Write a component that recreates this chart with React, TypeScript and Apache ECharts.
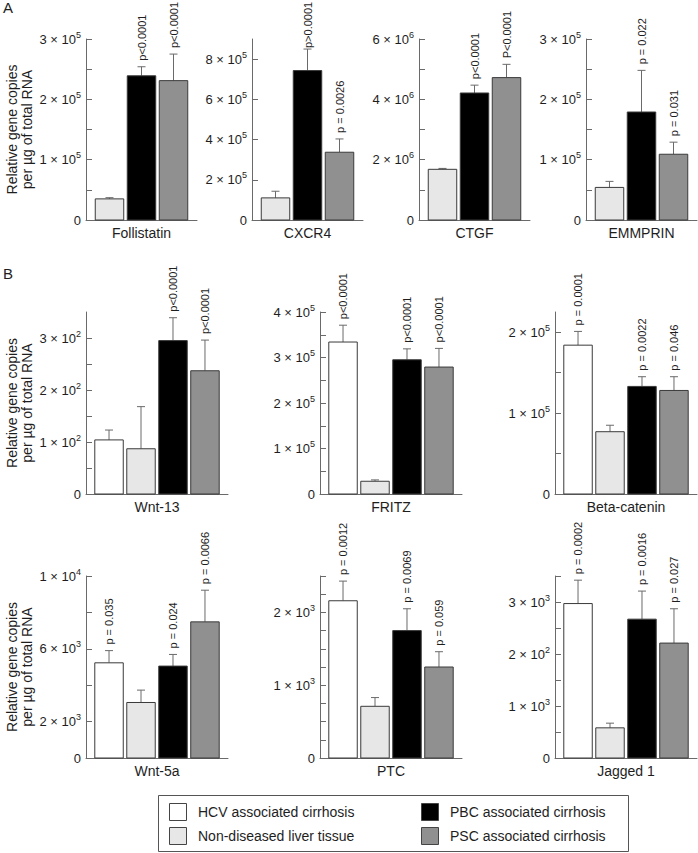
import React, { useEffect, useRef } from "react";
import * as echarts from "echarts";

const FONT = "'Liberation Sans', Arial, Helvetica, sans-serif";
const TEXT = "#1e1e1e";
const AXIS = "#6a6a6a";

const groups = [
  "HCV associated cirrhosis",
  "Non-diseased liver tissue",
  "PBC associated cirrhosis",
  "PSC associated cirrhosis",
];
const groupColors = ["#ffffff", "#e6e7e6", "#000000", "#8f908f"];

// Panel A genes (3 groups: non-diseased, PBC, PSC)
const panelAGroups = [1, 2, 3];
const panelBGroups = [0, 1, 2, 3];

const follistatinMean = [35000, 239000, 231000];
const follistatinSem = [2000, 15000, 44000];
const follistatinP = ["", "p<0.0001", "p<0.0001"];
const follistatinTicks = [0, 50000, 100000, 150000, 200000, 250000, 300000];
const follistatinLabelVals = [0, 100000, 200000, 300000];
const follistatinLabels = ["0", "1 × 10^5", "2 × 10^5", "3 × 10^5"];

const cxcr4Mean = [110000, 743000, 337000];
const cxcr4Sem = [33000, 107000, 66000];
const cxcr4P = ["", "p>0.0001", "p = 0.0026"];
const cxcr4Ticks = [0, 200000, 400000, 600000, 800000];
const cxcr4LabelVals = [0, 200000, 400000, 600000, 800000];
const cxcr4Labels = ["0", "2 × 10^5", "4 × 10^5", "6 × 10^5", "8 × 10^5"];

const ctgfMean = [1680000, 4210000, 4720000];
const ctgfSem = [30000, 260000, 440000];
const ctgfP = ["", "p<0.0001", "P<0.0001"];
const ctgfTicks = [0, 1000000, 2000000, 3000000, 4000000, 5000000, 6000000];
const ctgfLabelVals = [0, 2000000, 4000000, 6000000];
const ctgfLabels = ["0", "2 × 10^6", "4 × 10^6", "6 × 10^6"];

const emmprinMean = [54000, 179000, 109000];
const emmprinSem = [10000, 69000, 20000];
const emmprinP = ["", "p = 0.022", "p = 0.031"];
const emmprinTicks = [0, 50000, 100000, 150000, 200000, 250000, 300000];
const emmprinLabelVals = [0, 100000, 200000, 300000];
const emmprinLabels = ["0", "1 × 10^5", "2 × 10^5", "3 × 10^5"];

// Panel B genes (4 groups)
const wnt13Mean = [104, 87, 295, 237];
const wnt13Sem = [19, 81, 44, 59];
const wnt13P = ["", "", "p<0.0001", "p<0.0001"];
const wnt13Ticks = [0, 50, 100, 150, 200, 250, 300];
const wnt13LabelVals = [0, 100, 200, 300];
const wnt13Labels = ["0", "1 × 10^2", "2 × 10^2", "3 × 10^2"];

const fritzMean = [334000, 28000, 295000, 279000];
const fritzSem = [37000, 3000, 24000, 41000];
const fritzP = ["p<0.0001", "", "p<0.0001", "p<0.0001"];
const fritzTicks = [0, 50000, 100000, 150000, 200000, 250000, 300000, 350000, 400000];
const fritzLabelVals = [0, 100000, 200000, 300000, 400000];
const fritzLabels = ["0", "1 × 10^5", "2 × 10^5", "3 × 10^5", "4 × 10^5"];

const betaMean = [184000, 77000, 133000, 128000];
const betaSem = [17000, 8000, 12000, 17000];
const betaP = ["p = 0.0001", "", "p = 0.0022", "p = 0.046"];
const betaTicks = [0, 50000, 100000, 150000, 200000];
const betaLabelVals = [0, 100000, 200000];
const betaLabels = ["0", "1 × 10^5", "2 × 10^5"];

const wnt5aMean = [5230, 3050, 5050, 7480];
const wnt5aSem = [670, 680, 640, 1740];
const wnt5aP = ["p = 0.035", "", "p = 0.024", "p = 0.0066"];
const wnt5aTicks = [0, 2000, 4000, 6000, 8000, 10000];
const wnt5aLabelVals = [0, 2000, 6000, 10000];
const wnt5aLabels = ["0", "2 × 10^3", "6 × 10^3", "1 × 10^4"];

const ptcMean = [2160, 710, 1750, 1250];
const ptcSem = [270, 120, 300, 210];
const ptcP = ["p = 0.0012", "", "p = 0.0069", "p = 0.059"];
const ptcTicks = [0, 250, 500, 750, 1000, 1250, 1500, 1750, 2000, 2250, 2500];
const ptcLabelVals = [0, 1000, 2000];
const ptcLabels = ["0", "1 × 10^3", "2 × 10^3"];

const jaggedMean = [2970, 580, 2670, 2210];
const jaggedSem = [450, 90, 540, 660];
const jaggedP = ["p = 0.0002", "", "p = 0.0016", "p = 0.027"];
const jaggedTicks = [0, 500, 1000, 1500, 2000, 2500, 3000, 3500];
const jaggedLabelVals = [0, 1000, 2000, 3000];
const jaggedLabels = ["0", "1 × 10^3", "2 × 10^2", "3 × 10^3"];

const yAxisTitle = "Relative gene copies\nper µg of total RNA";

type Panel = {
  gene: string;
  groupIdx: number[];
  mean: number[];
  sem: number[];
  p: string[];
  yMax: number;
  ticks: number[];
  labelVals: number[];
  labels: string[];
  left: number;
  top: number;
  width: number;
  height: number;
  xMin: number;
  xMax: number;
  title: boolean;
};

const A_W = 111;
const B_W = 142;
const H = 182;

const panels: Panel[] = [
  { gene: "Follistatin", groupIdx: panelAGroups, mean: follistatinMean, sem: follistatinSem, p: follistatinP, yMax: 300000, ticks: follistatinTicks, labelVals: follistatinLabelVals, labels: follistatinLabels, left: 86, top: 39, width: A_W, height: 181, xMin: -0.734, xMax: 2.734, title: true },
  { gene: "CXCR4", groupIdx: panelAGroups, mean: cxcr4Mean, sem: cxcr4Sem, p: cxcr4P, yMax: 900000, ticks: cxcr4Ticks, labelVals: cxcr4LabelVals, labels: cxcr4Labels, left: 252, top: 39, width: A_W, height: 181, xMin: -0.734, xMax: 2.734, title: false },
  { gene: "CTGF", groupIdx: panelAGroups, mean: ctgfMean, sem: ctgfSem, p: ctgfP, yMax: 6000000, ticks: ctgfTicks, labelVals: ctgfLabelVals, labels: ctgfLabels, left: 419, top: 39, width: A_W, height: 181, xMin: -0.734, xMax: 2.734, title: false },
  { gene: "EMMPRIN", groupIdx: panelAGroups, mean: emmprinMean, sem: emmprinSem, p: emmprinP, yMax: 300000, ticks: emmprinTicks, labelVals: emmprinLabelVals, labels: emmprinLabels, left: 586, top: 39, width: A_W, height: 181, xMin: -0.734, xMax: 2.734, title: false },
  { gene: "Wnt-13", groupIdx: panelBGroups, mean: wnt13Mean, sem: wnt13Sem, p: wnt13P, yMax: 350, ticks: wnt13Ticks, labelVals: wnt13LabelVals, labels: wnt13Labels, left: 86, top: 312, width: B_W, height: H, xMin: -0.72, xMax: 3.72, title: true },
  { gene: "FRITZ", groupIdx: panelBGroups, mean: fritzMean, sem: fritzSem, p: fritzP, yMax: 400000, ticks: fritzTicks, labelVals: fritzLabelVals, labels: fritzLabels, left: 320, top: 312, width: B_W, height: H, xMin: -0.72, xMax: 3.72, title: false },
  { gene: "Beta-catenin", groupIdx: panelBGroups, mean: betaMean, sem: betaSem, p: betaP, yMax: 225000, ticks: betaTicks, labelVals: betaLabelVals, labels: betaLabels, left: 555, top: 312, width: B_W, height: H, xMin: -0.72, xMax: 3.72, title: false },
  { gene: "Wnt-5a", groupIdx: panelBGroups, mean: wnt5aMean, sem: wnt5aSem, p: wnt5aP, yMax: 10000, ticks: wnt5aTicks, labelVals: wnt5aLabelVals, labels: wnt5aLabels, left: 86, top: 576, width: B_W, height: H, xMin: -0.72, xMax: 3.72, title: true },
  { gene: "PTC", groupIdx: panelBGroups, mean: ptcMean, sem: ptcSem, p: ptcP, yMax: 2500, ticks: ptcTicks, labelVals: ptcLabelVals, labels: ptcLabels, left: 320, top: 576, width: B_W, height: H, xMin: -0.72, xMax: 3.72, title: false },
  { gene: "Jagged 1", groupIdx: panelBGroups, mean: jaggedMean, sem: jaggedSem, p: jaggedP, yMax: 3500, ticks: jaggedTicks, labelVals: jaggedLabelVals, labels: jaggedLabels, left: 555, top: 576, width: B_W, height: H, xMin: -0.72, xMax: 3.72, title: false },
];

function richLabel(t: string): string {
  if (t.indexOf("^") >= 0) {
    const [base, exp] = t.split("^");
    return `{b|${base}}{s|${exp}}`;
  }
  return `{b|${t}}`;
}

function buildOption() {
  const grid: any[] = [];
  const xAxis: any[] = [];
  const yAxis: any[] = [];
  const series: any[] = [];

  panels.forEach((pn, i) => {
    grid.push({ left: pn.left, top: pn.top, width: pn.width, height: pn.height, containLabel: false, outerBoundsMode: "none" });
    xAxis.push({
      type: "value",
      gridIndex: i,
      min: pn.xMin,
      max: pn.xMax,
      axisLine: { show: true, onZero: false, lineStyle: { color: AXIS, width: 1 } },
      axisTick: { show: false },
      axisLabel: { show: false },
      splitLine: { show: false },
      name: pn.gene,
      nameLocation: "middle",
      nameGap: 6,
      nameTextStyle: { fontSize: 14, color: TEXT, fontFamily: FONT, verticalAlign: "top" },
    });
    yAxis.push({
      type: "value",
      gridIndex: i,
      min: 0,
      max: pn.yMax,
      axisLine: { show: true, onZero: false, lineStyle: { color: AXIS, width: 1 } },
      axisTick: { show: true, inside: true, length: 6, customValues: pn.ticks, lineStyle: { color: AXIS, width: 1 } },
      axisLabel: {
        show: true,
        margin: 5,
        customValues: pn.labelVals,
        formatter: (v: number) => {
          const idx = pn.labelVals.findIndex((lv) => Math.abs(lv - v) < pn.yMax * 1e-6);
          return idx >= 0 ? richLabel(pn.labels[idx]) : "";
        },
        rich: {
          b: { fontSize: 13, fontFamily: FONT, color: TEXT, lineHeight: 18, verticalAlign: "middle" },
          s: { fontSize: 9, fontFamily: FONT, color: TEXT, lineHeight: 9, verticalAlign: "top" },
        },
      },
      splitLine: { show: false },
      name: pn.title ? yAxisTitle : "",
      nameLocation: "middle",
      nameRotate: 90,
      nameGap: 52,
      nameTextStyle: { fontSize: 14, lineHeight: 15, color: TEXT, fontFamily: FONT },
    });
    series.push({
      type: "custom",
      xAxisIndex: i,
      yAxisIndex: i,
      clip: false,
      data: pn.mean.map((m, k) => [k, m, m + pn.sem[k], pn.groupIdx[k]]),
      encode: { x: 0, y: [1, 2] },
      renderItem: (params: any, api: any) => {
        const k = api.value(0);
        const m = api.value(1);
        const top = api.value(2);
        const g = api.value(3);
        const base = api.coord([k, 0]);
        const pt = api.coord([k, m]);
        const et = api.coord([k, top]);
        const w = api.size([1, 0])[0] * 0.89;
        const label = pn.p[params.dataIndex];
        const children: any[] = [
          {
            type: "line",
            shape: { x1: et[0], y1: pt[1], x2: et[0], y2: et[1] },
            style: { stroke: AXIS, lineWidth: 1 },
          },
          {
            type: "line",
            shape: { x1: et[0] - 4, y1: et[1], x2: et[0] + 4, y2: et[1] },
            style: { stroke: AXIS, lineWidth: 1 },
          },
          {
            type: "rect",
            shape: { x: base[0] - w / 2, y: pt[1], width: w, height: base[1] - pt[1] },
            style: { fill: groupColors[g], stroke: "#3a3a3a", lineWidth: 1 },
          },
        ];
        if (label) {
          // keep the rotated label inside the page at the top edge
          const ly = Math.max(et[1] - 6, 48);
          children.push({
            type: "text",
            x: et[0],
            y: ly,
            rotation: Math.PI / 2,
            style: { text: label, fontSize: 11, fontFamily: FONT, fill: TEXT, align: "left", verticalAlign: "middle" },
          });
        }
        return { type: "group", children };
      },
    });
  });

  // Legend drawn as graphic
  const legendItems: any[] = [];
  const colX = [169, 421];
  const rowY = [812, 836];
  groups.forEach((name, gi) => {
    const col = gi < 2 ? 0 : 1;
    const row = gi % 2;
    legendItems.push({
      type: "rect",
      shape: { x: colX[col] + 0.5, y: rowY[row] - 8.5, width: 17, height: 17 },
      style: { fill: groupColors[gi], stroke: "#444", lineWidth: 1 },
    });
    legendItems.push({
      type: "text",
      x: colX[col] + 29,
      y: rowY[row],
      style: { text: name, fontSize: 14, fontFamily: FONT, fill: TEXT, align: "left", verticalAlign: "middle" },
    });
  });

  return {
    animation: false,
    backgroundColor: "#ffffff",
    grid,
    xAxis,
    yAxis,
    series,
    graphic: [
      { type: "text", x: 3, y: 7, style: { text: "A", fontSize: 15, fontFamily: FONT, fill: TEXT, verticalAlign: "middle" } },
      { type: "text", x: 3, y: 273, style: { text: "B", fontSize: 15, fontFamily: FONT, fill: TEXT, verticalAlign: "middle" } },
      {
        type: "rect",
        shape: { x: 158.5, y: 795.5, width: 470, height: 56 },
        style: { fill: "#ffffff", stroke: "#555", lineWidth: 1 },
      },
      ...legendItems,
    ],
  };
}

export default function App() {
  const ref = useRef<HTMLDivElement>(null);
  useEffect(() => {
    document.body.style.margin = "0";
    const chart = echarts.init(ref.current as HTMLDivElement, null, { renderer: "svg" });
    chart.setOption(buildOption() as any);
    return () => chart.dispose();
  }, []);
  return <div ref={ref} style={{ width: 698, height: 853 }} />;
}
